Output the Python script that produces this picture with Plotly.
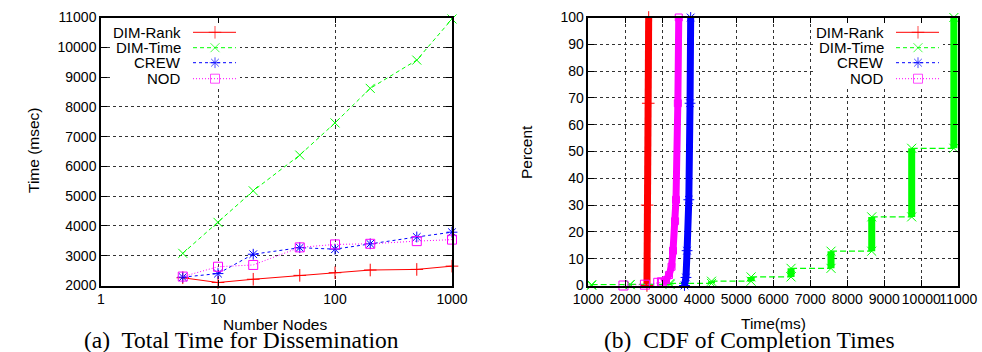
import plotly.graph_objects as go

# ---------------- (a) Total Time for Dissemination ----------------
nodes = [5, 10, 20, 50, 100, 200, 500, 1000]
dim_rank = [2260, 2100, 2210, 2340, 2430, 2520, 2540, 2650]
dim_time = [3080, 4120, 5180, 6380, 7460, 8620, 9570, 10950]
crew = [2280, 2400, 3050, 3270, 3220, 3400, 3630, 3790]
nod = [2300, 2630, 2690, 3280, 3380, 3400, 3490, 3540]

# ---------------- (b) CDF of Completion Times ----------------
rank_ms = [2585, 2590, 2620, 2632]
rank_pct = [0, 30, 68, 100]
nod_tail_ms = [1950, 2530, 2890]
nod_tail_pct = [0, 0.3, 1]
nod_ms = [2990, 3100, 3180, 3250, 3290, 3345, 3370, 3420, 3445]
nod_pct = [1.2, 2, 3.9, 7, 13, 24, 32, 68, 100]
crew_ms = [3600, 3640, 3670, 3717, 3750, 3767]
crew_pct = [0, 3, 13, 32, 68, 100]
time_ms = [1090, 2130, 3210, 4330, 5400, 6480, 7560, 8660, 9740, 10880]
time_levels = [0.1, 0.3, 0.4, 0.8, 1.6, 3.2, 6.4, 12.8, 25.6, 51.2, 100]

names = ["DIM-Rank", "DIM-Time", "CREW", "NOD"]
colors = ["#ff0000", "#00ff00", "#0000ff", "#ff00ff"]
dashes = ["solid", "4px,3px", "3px,3px", "1px,2px"]
symbols = ["cross-thin-open", "x-thin-open", "asterisk-open", "square-open"]

left_x_ticks = [1, 10, 100, 1000]
left_x_minor = [m * d for d in (1, 10, 100) for m in range(2, 10)]
left_y_ticks = list(range(2000, 11001, 1000))
right_x_ticks = list(range(1000, 11001, 1000))
right_y_ticks = list(range(0, 101, 10))

W, H = 982, 352
SANS = "Liberation Sans, Arial, Helvetica, sans-serif"
SERIF = "Liberation Serif, Times New Roman, serif"

# plot areas in pixels
L_X0, L_X1 = 101, 452
R_X0, R_X1 = 588.3, 958.3
Y_TOP, Y_BOT = 17.5, 285.5


def px(x):
    return x / W


def py(y):
    return 1 - y / H


fig = go.Figure()


def mk(sym, c, size=9):
    return dict(symbol=sym, size=size, color=c, line=dict(width=1, color=c))


# left panel series
for name, vals, c, d, s in zip(names, [dim_rank, dim_time, crew, nod], colors, dashes, symbols):
    fig.add_trace(go.Scatter(x=nodes, y=vals, mode="lines+markers", name=name,
                             line=dict(color=c, width=1, dash=d), marker=mk(s, c),
                             cliponaxis=False, showlegend=False, xaxis="x", yaxis="y"))

# right panel: DIM-Rank
fig.add_trace(go.Scatter(x=rank_ms, y=rank_pct, mode="lines+markers",
                         line=dict(color=colors[0], width=7), marker=mk(symbols[0], colors[0]),
                         cliponaxis=False, showlegend=False, xaxis="x2", yaxis="y2"))

# right panel: DIM-Time (step CDF)
gx, gy = [], []
for k, t in enumerate(time_ms):
    gx += [t, t, None]
    gy += [time_levels[k], time_levels[k + 1], None]
cx, cy = [], []
for k in range(len(time_ms) - 1):
    cx += [time_ms[k], time_ms[k + 1], None]
    cy += [time_levels[k + 1], time_levels[k + 1], None]
fig.add_trace(go.Scatter(x=cx, y=cy, mode="lines", line=dict(color=colors[1], width=1.2, dash="6px,3px"),
                         cliponaxis=False, showlegend=False, xaxis="x2", yaxis="y2"))
fig.add_trace(go.Scatter(x=gx, y=gy, mode="lines+markers", line=dict(color=colors[1], width=7),
                         marker=mk(symbols[1], colors[1]),
                         cliponaxis=False, showlegend=False, xaxis="x2", yaxis="y2"))

# right panel: CREW
fig.add_trace(go.Scatter(x=crew_ms, y=crew_pct, mode="lines+markers",
                         line=dict(color=colors[2], width=7), marker=mk(symbols[2], colors[2]),
                         cliponaxis=False, showlegend=False, xaxis="x2", yaxis="y2"))

# right panel: NOD
fig.add_trace(go.Scatter(x=nod_tail_ms + nod_ms[:1], y=nod_tail_pct + nod_pct[:1], mode="lines+markers",
                         line=dict(color=colors[3], width=1, dash=dashes[3]), marker=mk(symbols[3], colors[3]),
                         cliponaxis=False, showlegend=False, xaxis="x2", yaxis="y2"))
fig.add_trace(go.Scatter(x=nod_ms, y=nod_pct, mode="lines+markers",
                         line=dict(color=colors[3], width=7), marker=mk(symbols[3], colors[3], 7),
                         cliponaxis=False, showlegend=False, xaxis="x2", yaxis="y2"))

# legends (gnuplot style: label on the left, sample on the right), drawn on a pixel overlay axis
annotations = []
leg_rows = [32.3, 47.7, 62.7, 78.7]
panels = [(183, 193, 236, 215, (110, 240)), (886, 896, 939, 918, (815, 943))]
for (text_right, l0, l1, mx, box) in panels:
    bx0, bx1 = box
    fig.add_trace(go.Scatter(x=[bx0, bx1, bx1, bx0, bx0], y=[24, 24, 87, 87, 24], mode="lines",
                             fill="toself", fillcolor="white", line=dict(width=0, color="white"),
                             showlegend=False, hoverinfo="skip", xaxis="x3", yaxis="y3"))
    for name, c, d, s, yy in zip(names, colors, dashes, symbols, leg_rows):
        annotations.append(dict(text=name, x=px(text_right), y=py(yy), xref="paper", yref="paper",
                                xanchor="right", yanchor="middle", showarrow=False,
                                font=dict(family=SANS, size=15, color="black")))
        fig.add_trace(go.Scatter(x=[l0, mx, l1], y=[yy, yy, yy], mode="lines+markers",
                                 line=dict(color=c, width=1, dash=d),
                                 marker=dict(symbol=s, size=[0, 9, 0], color=c, line=dict(width=1, color=c)),
                                 showlegend=False, hoverinfo="skip", xaxis="x3", yaxis="y3"))

# axis titles & captions
annotations += [
    dict(text="Time (msec)", x=px(33), y=py(150), textangle=-90, font=dict(family=SANS, size=15.5)),
    dict(text="Number Nodes", x=px(275), y=py(324), font=dict(family=SANS, size=15.5)),
    dict(text="Percent", x=px(526), y=py(152), textangle=-90, font=dict(family=SANS, size=15.5)),
    dict(text="Time(ms)", x=px(773), y=py(323), font=dict(family=SANS, size=15.5)),
    dict(text="(a)  Total Time for Dissemination", x=px(241), y=py(340), font=dict(family=SERIF, size=23.5)),
    dict(text="(b)  CDF of Completion Times", x=px(749), y=py(340), font=dict(family=SERIF, size=23.5)),
]
for a in annotations[-6:]:
    a.update(xref="paper", yref="paper", xanchor="center", yanchor="middle", showarrow=False)
    a["font"]["color"] = "black"

axis_common = dict(showline=True, linecolor="black", linewidth=1.5, mirror="ticks",
                   ticks="inside", ticklen=6, tickcolor="black", tickwidth=1,
                   showgrid=True, gridcolor="#333", gridwidth=1, griddash="dot",
                   zeroline=False, automargin=False, tickangle=0,
                   tickfont=dict(family=SANS, size=14, color="black"))

ydom = [py(Y_BOT), py(Y_TOP)]
fig.update_layout(
    width=W, height=H, margin=dict(l=0, r=0, t=0, b=0, autoexpand=False),
    paper_bgcolor="white", plot_bgcolor="rgba(0,0,0,0)",
    xaxis=dict(domain=[px(L_X0), px(L_X1)], type="log", range=[0, 3], tickmode="array",
               tickvals=left_x_ticks, ticktext=[str(v) for v in left_x_ticks],
               anchor="y", **axis_common),
    xaxis4=dict(domain=[px(L_X0), px(L_X1)], type="log", range=[0, 3], tickmode="array",
                tickvals=left_x_minor, ticktext=["" for _ in left_x_minor], overlaying="x",
                anchor="y", ticks="inside", ticklen=3, tickcolor="black", mirror="ticks",
                showline=False, showgrid=False, zeroline=False, showticklabels=False, automargin=False),
    yaxis=dict(domain=ydom, range=[2000, 11000], tickmode="array", tickvals=left_y_ticks,
               ticktext=[str(v) for v in left_y_ticks], anchor="x", **axis_common),
    xaxis2=dict(domain=[px(R_X0), px(R_X1)], range=[1000, 11000], tickmode="array",
                tickvals=right_x_ticks, ticktext=[str(v) for v in right_x_ticks], anchor="y2", **axis_common),
    yaxis2=dict(domain=ydom, range=[0, 100], tickmode="array", tickvals=right_y_ticks,
                ticktext=[str(v) for v in right_y_ticks], anchor="x2", **axis_common),
    xaxis3=dict(domain=[0, 1], range=[0, W], visible=False, anchor="y3", fixedrange=True, automargin=False),
    yaxis3=dict(domain=[0, 1], range=[H, 0], visible=False, anchor="x3", fixedrange=True, automargin=False),
    annotations=annotations, showlegend=False,
)

fig.write_html("out.html", config={"displayModeBar": False},
               post_script="document.body.style.margin='0';document.body.style.overflow='hidden';")
